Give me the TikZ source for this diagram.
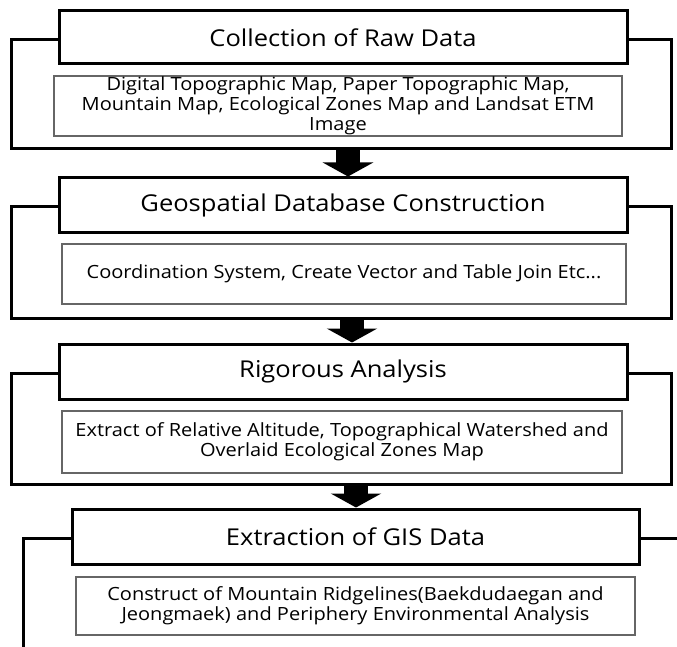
\documentclass[tikz,border=0pt]{standalone}
\usepackage{fontspec}
\setmainfont{Open Sans}[FakeStretch=1.1]
\usetikzlibrary{arrows.meta}

\tikzset{
  framebox/.style={draw, line width=3pt, inner sep=0pt},
  titlebox/.style={draw, line width=3pt, fill=white, inner sep=0pt, font=\fontsize{23.2}{26}\selectfont},
  infobox/.style={draw=black!60, line width=1.2pt, fill=white, inner sep=0pt, align=center, font=\fontsize{18.2}{20}\selectfont},
  bigarrow/.style={line width=24pt, -{Triangle[width=50pt,length=14pt]}}
}

\begin{document}
\begin{tikzpicture}[x=1pt, y=-1pt]
\useasboundingbox (0,0) rectangle (677,647);

% FIRST BLOCK
\node[framebox, minimum width=660pt, minimum height=109pt] (frameA) at (341, 94.5) {};
\node[titlebox, minimum width=568pt, minimum height=53pt] (titleA) at (343, 37.5) {Collection of Raw Data};
\node[infobox, minimum width=568pt, minimum height=60pt] (infoA) at (338, 106) {Digital Topographic Map, Paper Topographic Map,\\Mountain Map, Ecological Zones Map and Landsat ETM\\Image};

% SECOND BLOCK
\node[framebox, minimum width=660pt, minimum height=111pt] (frameB) at (341, 262.5) {};
\node[titlebox, minimum width=568pt, minimum height=54pt] (titleB) at (343, 205) {Geospatial Database Construction};
\node[infobox, minimum width=564pt, minimum height=60pt] (infoB) at (344, 274) {Coordination System, Create Vector and Table Join Etc...};

% THIRD BLOCK
\node[framebox, minimum width=660pt, minimum height=111pt] (frameC) at (341, 428.5) {};
\node[titlebox, minimum width=568pt, minimum height=55pt] (titleC) at (343, 371.5) {Rigorous Analysis};
\node[infobox, minimum width=560pt, minimum height=62pt] (infoC) at (342, 442) {Extract of Relative Altitude, Topographical Watershed and\\Overlaid Ecological Zones Map};

% FOURTH BLOCK (frame runs off the page)
\coordinate (footD) at (23, 650);
\coordinate (cornerD) at (23, 538);
\coordinate (endD) at (680, 538);
\draw[line width=3pt] (footD) -- (cornerD) -- (endD);
\node[titlebox, minimum width=567pt, minimum height=55pt] (titleD) at (355.5, 536.5) {Extraction of GIS Data};
\node[infobox, minimum width=559pt, minimum height=58pt] (infoD) at (355.5, 606) {Construct of Mountain Ridgelines(Baekdudaegan and\\Jeongmaek) and Periphery Environmental Analysis};

% arrows between blocks
\draw[bigarrow] ([xshift=7pt]frameA.south) -- ([xshift=7pt]frameA.south |- titleB.north);
\draw[bigarrow] ([xshift=11pt]frameB.south) -- ([xshift=11pt]frameB.south |- titleC.north);
\draw[bigarrow] ([xshift=15pt]frameC.south) -- ([xshift=15pt]frameC.south |- titleD.north);
\end{tikzpicture}
\end{document}
